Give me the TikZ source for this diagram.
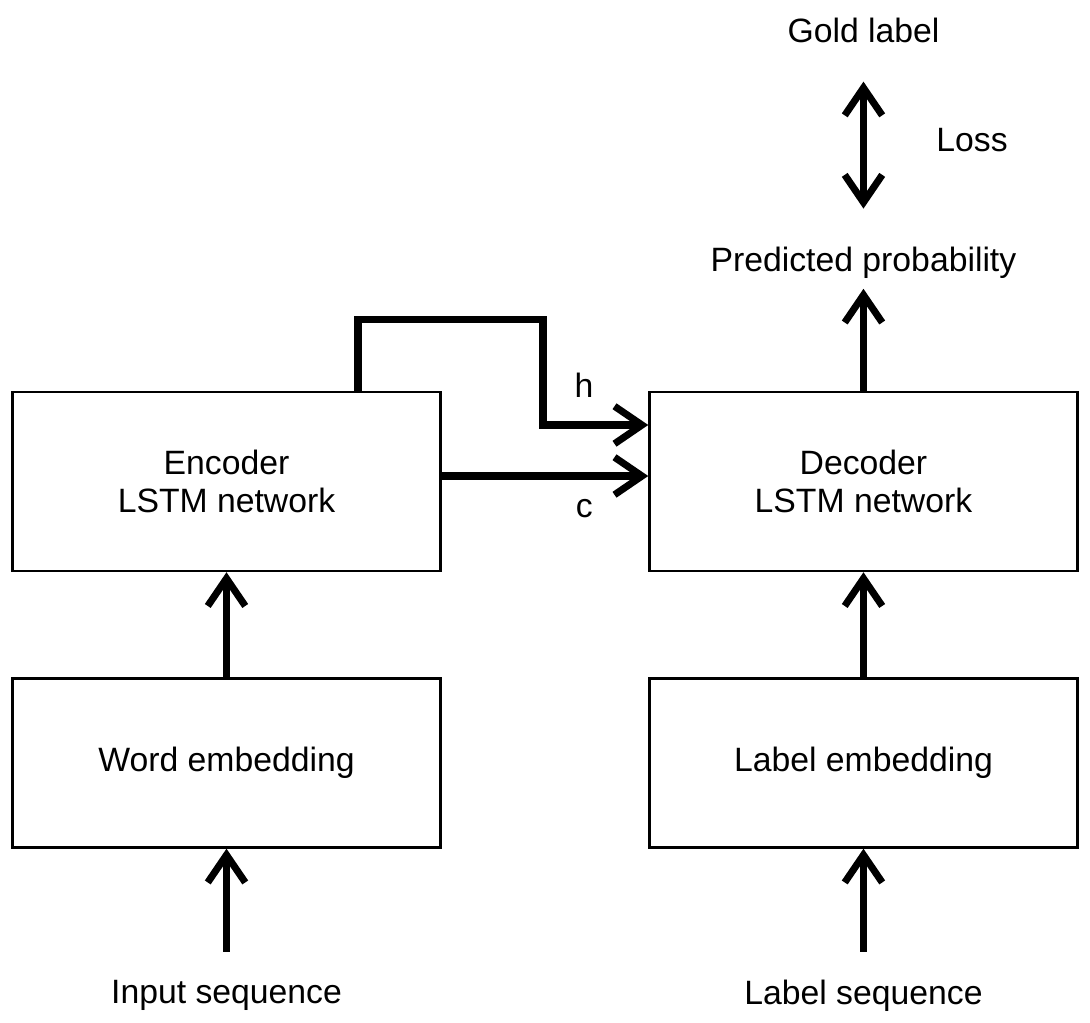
\documentclass[tikz,border=0pt]{standalone}
\usepackage{fontspec}
\setmainfont{Liberation Sans}
\usepackage{tikz}
\usetikzlibrary{positioning}
\usetikzlibrary{arrows.meta}

\tikzset{
  barb/.tip={Straight Barb[length=0.55cm,width=0.75cm]},
  block/.style={draw, line width=1.4pt, minimum width=8.56cm, align=center, inner sep=0pt},
  lbl/.style={inner sep=0pt},
  flow/.style={line width=4pt, -barb},
}

\begin{document}
\begin{tikzpicture}[font=\fontsize{19.2}{22}\selectfont]
    \useasboundingbox (0,0) rectangle (21.8,-20.44);

    % Define nodes
    \node[block, minimum height=3.58cm] (enc) at (4.53,-9.63) {Encoder\\LSTM network};
    \node[block, minimum height=3.58cm, right=4.13cm of enc] (dec) {Decoder\\LSTM network};
    \node[block, minimum height=3.38cm, below=2.1cm of enc] (wemb) {Word embedding};
    \node[block, minimum height=3.38cm, below=2.1cm of dec] (lemb) {Label embedding};
    \node[lbl, below=2.62cm of wemb] (inseq) {Input sequence};
    \node[lbl, below=2.62cm of lemb] (labseq) {Label sequence};
    \node[lbl, above=2.24cm of dec] (pred) {Predicted probability};
    \node[lbl, above=4.06cm of pred] (gold) {Gold label};
    \node[lbl] (loss) at (19.44,-2.81) {Loss};

    % Connect the nodes
    \draw[flow, shorten <=0.56cm] (inseq) -- (wemb);
    \draw[flow] (wemb) -- (enc);
    \draw[flow, shorten <=0.56cm] (labseq) -- (lemb);
    \draw[flow] (lemb) -- (dec);
    \draw[flow, shorten >=0.2cm] (dec) -- (pred);
    \draw[flow, barb-barb, shorten <=0.76cm, shorten >=0.76cm] (pred) -- (gold);
    \draw[flow] ([xshift=2.63cm]enc.north) -- ++(0,1.42) -- ++(3.7,0)
        |- ([yshift=1.13cm]dec.west) node[pos=0.695, above=0.36cm] (hlbl) {h};
    \draw[flow] ([yshift=0.11cm]enc.east) -- ([yshift=0.11cm]dec.west)
        node[pos=0.69, below=0.27cm] (clbl) {c};
\end{tikzpicture}
\end{document}
